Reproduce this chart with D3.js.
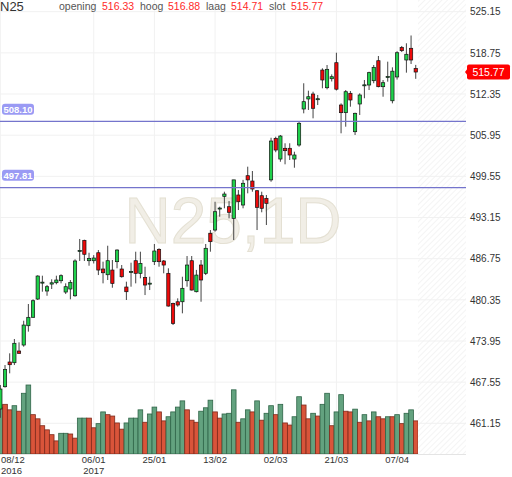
<!DOCTYPE html>
<html>
<head>
<meta charset="utf-8">
<script src="https://cdn.jsdelivr.net/npm/d3@7"></script>
<style>
  html, body { margin: 0; padding: 0; background: #fff; }
  svg { display: block; font-family: "Liberation Sans", Arial, sans-serif; }
</style>
</head>
<body>
<svg id="svg"></svg>
<script>
// trading days shown on the chart
const dates = [
  "2016-12-08","2016-12-09","2016-12-12","2016-12-13","2016-12-14","2016-12-15","2016-12-16","2016-12-19","2016-12-20","2016-12-21",
  "2016-12-22","2016-12-23","2016-12-27","2016-12-28","2016-12-29","2016-12-30","2017-01-02","2017-01-03","2017-01-04","2017-01-05",
  "2017-01-06","2017-01-09","2017-01-10","2017-01-11","2017-01-12","2017-01-13","2017-01-16","2017-01-17","2017-01-18","2017-01-19",
  "2017-01-20","2017-01-23","2017-01-24","2017-01-25","2017-01-26","2017-01-27","2017-01-30","2017-01-31","2017-02-01","2017-02-02",
  "2017-02-03","2017-02-06","2017-02-07","2017-02-08","2017-02-09","2017-02-10","2017-02-13","2017-02-14","2017-02-15","2017-02-16",
  "2017-02-17","2017-02-20","2017-02-21","2017-02-22","2017-02-23","2017-02-24","2017-02-27","2017-02-28","2017-03-01","2017-03-02",
  "2017-03-03","2017-03-06","2017-03-07","2017-03-08","2017-03-09","2017-03-10","2017-03-13","2017-03-14","2017-03-15","2017-03-16",
  "2017-03-17","2017-03-20","2017-03-21","2017-03-22","2017-03-23","2017-03-24","2017-03-27","2017-03-28","2017-03-29","2017-03-30",
  "2017-03-31","2017-04-03","2017-04-04","2017-04-05","2017-04-06","2017-04-07","2017-04-10","2017-04-11","2017-04-12","2017-04-13"
];

const opens = [
  463.37,466.84,470.68,470.57,472.39,473.32,476.32,477.63,480.47,483.00,
  481.72,482.80,483.01,483.32,481.56,482.03,480.98,487.95,489.60,486.43,
  486.43,487.67,485.14,484.25,484.98,486.28,485.14,482.34,484.68,486.43,
  484.47,483.84,482.88,486.28,488.20,486.39,484.47,479.80,480.05,480.05,
  483.32,486.43,481.61,485.76,484.47,490.69,491.20,494.54,496.44,494.83,
  493.02,496.65,495.09,499.65,498.82,497.31,496.54,496.13,499.00,505.46,
  502.24,503.91,503.91,502.24,504.42,510.02,511.58,512.35,511.55,516.08,
  513.33,514.73,517.22,510.64,509.45,512.46,506.49,510.80,513.72,513.75,
  514.42,517.53,513.49,515.01,511.30,515.00,519.58,517.64,519.46,516.33
];
const highs = [
  467.10,470.21,472.03,474.26,473.74,477.10,479.70,480.43,484.16,484.10,
  482.65,483.54,484.10,484.31,482.91,483.43,486.65,489.81,489.70,487.67,
  487.30,488.09,486.28,488.76,486.54,488.20,485.76,483.17,486.12,487.83,
  487.83,485.50,483.94,489.03,488.36,486.54,485.25,479.90,480.58,483.94,
  487.16,487.16,485.00,486.54,489.03,491.20,495.60,494.83,497.16,495.71,
  499.00,497.42,499.00,501.05,500.38,497.42,497.16,496.65,505.55,505.71,
  505.98,504.69,504.69,503.38,508.05,514.02,512.87,512.71,512.20,516.35,
  516.86,515.40,518.77,510.90,512.97,512.82,509.45,512.46,514.53,515.82,
  516.86,518.26,514.53,517.38,516.50,519.00,519.82,520.24,521.45,516.88
];
const lows = [
  462.00,466.70,468.92,470.21,472.00,473.06,475.40,477.60,480.32,481.61,
  480.98,482.03,482.76,482.91,481.25,480.43,480.83,486.39,486.39,485.65,
  486.00,484.20,482.91,483.43,482.23,485.25,483.80,480.32,482.39,482.91,
  483.69,481.09,481.87,485.76,485.50,484.47,479.30,476.43,479.28,478.25,
  482.39,481.80,481.50,480.05,484.20,487.83,490.94,493.27,494.58,493.02,
  489.65,494.31,494.58,496.91,497.16,491.20,493.96,491.98,498.71,503.30,
  501.82,501.42,502.09,500.89,504.16,509.35,509.87,508.57,510.64,513.24,
  513.08,514.30,512.90,506.24,507.27,510.38,505.98,509.09,511.69,512.97,
  514.02,513.39,511.93,514.27,510.90,514.60,518.88,515.67,517.02,514.71
];
const closes = [
  466.48,469.54,470.26,473.59,472.03,476.43,477.63,480.21,484.05,483.10,
  482.39,483.00,483.43,484.10,482.39,483.07,486.39,488.03,487.43,486.80,
  486.85,484.98,484.56,486.43,482.91,488.09,483.94,481.61,484.76,484.47,
  486.02,482.65,482.94,487.94,486.28,485.76,479.38,476.69,479.54,482.14,
  485.76,481.87,484.20,483.43,488.36,489.39,494.05,494.62,496.80,493.96,
  499.00,495.60,498.47,499.00,497.58,494.73,494.58,495.35,505.04,503.64,
  505.82,503.54,502.87,502.87,507.80,511.16,511.93,510.13,511.62,514.53,
  516.19,515.04,513.10,509.45,512.71,511.42,509.35,512.20,513.78,515.67,
  516.50,513.49,514.11,515.07,515.90,518.77,519.09,518.53,517.64,515.77
];

// volume (relative units) and bar colour: g = green, r = red
const volumes = [
  67,72,64,70,62,88,100,57,51,41,
  35,28,19,30,30,29,23,52,52,52,
  38,44,61,57,55,45,36,45,52,52,
  64,46,58,68,61,48,54,61,68,77,
  64,49,46,62,67,78,61,52,58,59,
  93,46,51,64,61,77,49,59,70,57,
  72,45,42,54,83,71,51,59,55,72,
  88,41,61,86,62,61,65,46,57,48,
  61,54,51,54,54,57,44,59,64,48
];
const volumeDirs = ("grrgrggrrr" + "rrrggrrggr" + "rggrrrrggg" + "grggrrgggg" + "rrrgggrrgg" +
                    "grggrgrggr" + "grrggrrgrg" + "grggrrgrgr" + "grrgrgrggr").split("");

const priceTicks = [525.15, 518.75, 512.35, 505.95, 499.55, 493.15, 486.75, 480.35, 473.95, 467.55, 461.15];
const xTickDates = ["2016-12-08","2017-01-06","2017-01-25","2017-02-13","2017-03-02","2017-03-21","2017-04-07"];
const xTickYears = ["2016","2017","","","","",""];
const levels = [508.10, 497.81];

const quoteLabels = ["opening", "hoog", "laag", "slot"];
const quoteValues = [516.33, 516.88, 514.71, 515.77];
const symbol = "N25";
const watermark = "N25,1D";

let layout = {"width": 512, "height": 477,
              "plotRight": 418, "hatchRight": 466,
              "volBase": 454};

let svgElement = d3.select("#svg")
    .attr("width", layout.width)
    .attr("height", layout.height);

let xScale = d3.scaleBand()
    .domain(dates)
    .range([-1.97, 418.07])
    .padding(0);

let yScale = d3.scaleLinear()
    .domain([461.15, 525.15])
    .range([423.3, 11.7]);

let volScale = d3.scaleLinear()
    .domain([0, 100])
    .range([layout.volBase, 385]);

const cx = d => xScale(d) + xScale.bandwidth() / 2;

let defs = svgElement.append("defs");
defs.append("clipPath").attr("id", "plotClip")
    .append("rect").attr("x", 0).attr("y", 0)
    .attr("width", layout.plotRight).attr("height", layout.volBase);

let pat = defs.append("pattern").attr("id", "hatch")
    .attr("patternUnits", "userSpaceOnUse")
    .attr("width", 4).attr("height", 4)
    .attr("patternTransform", "rotate(45)");
pat.append("line").attr("x1", 0).attr("y1", 0).attr("x2", 0).attr("y2", 4)
    .attr("stroke", "#ececec").attr("stroke-width", 1.2);

// future / padding area on the right
svgElement.append("rect")
    .attr("x", layout.plotRight).attr("y", 0)
    .attr("width", layout.hatchRight - layout.plotRight).attr("height", layout.volBase)
    .attr("fill", "url(#hatch)");

// grid
svgElement.append("g").selectAll("line")
    .data(priceTicks)
    .join("line")
    .attr("x1", 0).attr("x2", layout.hatchRight)
    .attr("y1", d => yScale(d)).attr("y2", d => yScale(d))
    .attr("stroke", "#f1f1f1");

svgElement.append("g").selectAll("line")
    .data(xTickDates)
    .join("line")
    .attr("x1", d => cx(d)).attr("x2", d => cx(d))
    .attr("y1", 0).attr("y2", layout.volBase)
    .attr("stroke", "#f1f1f1");

// watermark
svgElement.append("text")
    .attr("x", 233).attr("y", 243)
    .attr("text-anchor", "middle")
    .attr("font-size", 64)
    .attr("fill", "#f1eee6")
    .attr("stroke", "#e4e0d3")
    .attr("stroke-width", 1)
    .text(watermark);

let plot = svgElement.append("g").attr("clip-path", "url(#plotClip)");

// volume
plot.append("g").selectAll("rect")
    .data(dates)
    .join("rect")
    .attr("x", d => xScale(d))
    .attr("width", xScale.bandwidth())
    .attr("y", (d, i) => volScale(volumes[i]))
    .attr("height", (d, i) => layout.volBase - volScale(volumes[i]))
    .attr("fill", (d, i) => volumeDirs[i] === "g" ? "#63a27f" : "#d9543a")
    .attr("stroke", (d, i) => volumeDirs[i] === "g" ? "#2f6548" : "#7e2a1c")
    .attr("stroke-width", 0.8);

// candles
let candles = plot.append("g").selectAll("g")
    .data(dates)
    .join("g");

candles.append("line")
    .attr("x1", d => cx(d)).attr("x2", d => cx(d))
    .attr("y1", (d, i) => yScale(highs[i]))
    .attr("y2", (d, i) => yScale(lows[i]))
    .attr("stroke", "#444")
    .attr("stroke-width", 1);

const bodyW = xScale.bandwidth() * 0.7;
candles.append("rect")
    .attr("x", d => cx(d) - bodyW / 2)
    .attr("width", bodyW)
    .attr("y", (d, i) => yScale(Math.max(opens[i], closes[i])))
    .attr("height", (d, i) => Math.max(1, Math.abs(yScale(opens[i]) - yScale(closes[i]))))
    .attr("fill", (d, i) => closes[i] >= opens[i] ? "#1fd14b" : "#ee0a0a")
    .attr("stroke", "#111")
    .attr("stroke-width", 0.7);

// horizontal levels
svgElement.append("g").selectAll("line")
    .data(levels)
    .join("line")
    .attr("x1", 0).attr("x2", layout.hatchRight)
    .attr("y1", d => yScale(d)).attr("y2", d => yScale(d))
    .attr("stroke", "#7474cc")
    .attr("stroke-width", 1.3);

let levelTags = svgElement.append("g").selectAll("g")
    .data(levels)
    .join("g")
    .attr("transform", d => `translate(2, ${yScale(d) - 17.7})`);
levelTags.append("rect")
    .attr("width", 32).attr("height", 11).attr("rx", 3)
    .attr("fill", "#9a9af4");
levelTags.append("text")
    .attr("x", 16).attr("y", 9)
    .attr("text-anchor", "middle")
    .attr("font-size", 9.5).attr("font-weight", "bold")
    .attr("fill", "#fff")
    .text(d => d.toFixed(2));

// price axis
let yAxis = svgElement.append("g")
    .attr("transform", `translate(${layout.hatchRight}, 0)`)
    .call(d3.axisRight(yScale).tickValues(priceTicks).tickSize(0).tickPadding(4)
          .tickFormat(d3.format(".2f")));
yAxis.select(".domain").remove();
yAxis.selectAll("text")
    .attr("font-family", "'Liberation Sans', Arial, sans-serif")
    .attr("font-size", 10)
    .attr("fill", "#333");

// last price tag
const last = closes[closes.length - 1];
let tag = svgElement.append("g")
    .attr("transform", `translate(467, ${yScale(last)})`);
tag.append("path")
    .attr("d", "M-2,0 L1,-4 L1,4 Z")
    .attr("fill", "#ff0000");
tag.append("rect")
    .attr("x", 0).attr("y", -7.5).attr("width", 43).attr("height", 15).attr("rx", 2)
    .attr("fill", "#ff0000");
tag.append("text")
    .attr("x", 21.5).attr("y", 4)
    .attr("text-anchor", "middle")
    .attr("font-size", 10.5)
    .attr("fill", "#fff")
    .text(last.toFixed(2));

// date axis
svgElement.append("line")
    .attr("x1", 0).attr("x2", layout.hatchRight)
    .attr("y1", layout.volBase + 0.5).attr("y2", layout.volBase + 0.5)
    .attr("stroke", "#e4e4e4");

let xAxis = svgElement.append("g")
    .attr("transform", `translate(0, ${layout.volBase})`)
    .call(d3.axisBottom(xScale).tickValues(xTickDates).tickSize(0).tickPadding(2)
          .tickFormat(d => d.slice(8, 10) + "/" + d.slice(5, 7)));
xAxis.select(".domain").remove();
xAxis.selectAll("text")
    .attr("font-family", "'Liberation Sans', Arial, sans-serif")
    .attr("font-size", 9.5)
    .attr("fill", "#333");

// year under the first label of each year
xAxis.selectAll(".tick")
    .filter(d => xTickYears[xTickDates.indexOf(d)])
    .append("text")
    .attr("class", "year")
    .attr("y", 12.8)
    .attr("dy", "0.71em")
    .attr("text-anchor", "middle")
    .attr("font-family", "'Liberation Sans', Arial, sans-serif")
    .attr("font-size", 9.5)
    .attr("fill", "#333")
    .text(d => xTickYears[xTickDates.indexOf(d)]);

// first labels sit against the left edge
xAxis.selectAll(".tick").filter((d, i) => i === 0)
    .attr("transform", "translate(1, 0)")
    .selectAll("text").attr("text-anchor", "start");

// header
svgElement.append("text")
    .attr("x", 0).attr("y", 11)
    .attr("font-size", 13)
    .attr("fill", "#333")
    .text(symbol);

const labelX = [59, 140, 206, 269];
const valueX = [102, 168, 231, 291];
svgElement.append("g").selectAll("text")
    .data(quoteLabels)
    .join("text")
    .attr("x", (d, i) => labelX[i]).attr("y", 9.5)
    .attr("font-size", 10.5)
    .attr("fill", "#555")
    .text(d => d);
svgElement.append("g").selectAll("text")
    .data(quoteValues)
    .join("text")
    .attr("x", (d, i) => valueX[i]).attr("y", 9.5)
    .attr("font-size", 10.5)
    .attr("fill", "#ff2a2a")
    .text(d => d.toFixed(2));
</script>
</body>
</html>
